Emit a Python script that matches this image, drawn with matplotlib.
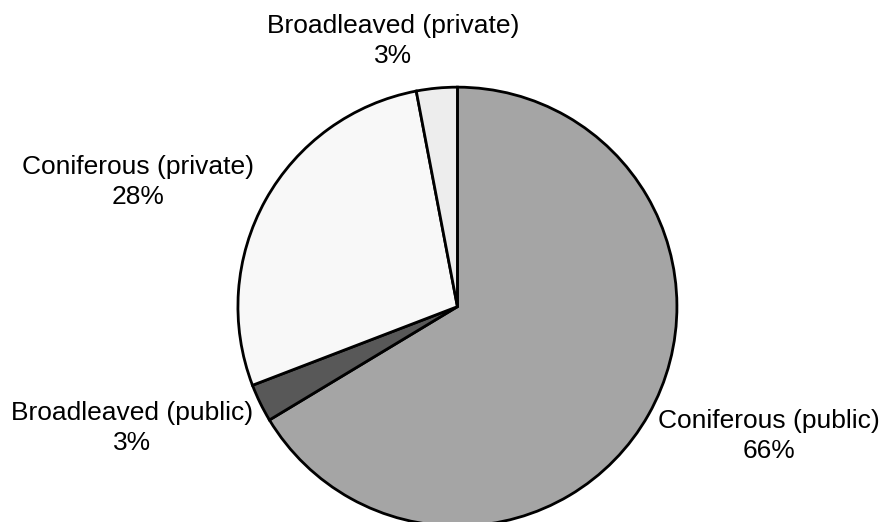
import matplotlib
matplotlib.use("Agg")
import matplotlib.pyplot as plt

labels = ["Coniferous (public)", "Broadleaved (public)", "Coniferous (private)", "Broadleaved (private)"]
shares = [66.3, 2.8, 27.8, 3.0]
pct_text = ["66%", "3%", "28%", "3%"]
colors = ["#a5a5a5", "#585858", "#f8f8f8", "#ededed"]

# label anchor points (data units, radius = 1)
label_pos = [(1.419, -0.589), (-1.483, -0.553), (-1.456, 0.568), (-0.294, 1.210)]

plt.rcParams['font.family'] = ['Liberation Sans', 'DejaVu Sans']

fig = plt.figure(figsize=(8.85, 5.22), dpi=100)
ax = fig.add_axes([0, 0, 1, 1])
ax.pie(shares, colors=colors, startangle=90, counterclock=False,
       wedgeprops=dict(edgecolor="black", linewidth=2))

for name, pct, (x, y) in zip(labels, pct_text, label_pos):
    ax.text(x, y, f"{name}\n{pct}", ha="center", va="center",
            fontsize=19, linespacing=1.3)

ax.set_xlim(-2.084, 1.948)
ax.set_ylim(-0.981, 1.397)
ax.axis("off")

fig.savefig("out.png", dpi=100)
